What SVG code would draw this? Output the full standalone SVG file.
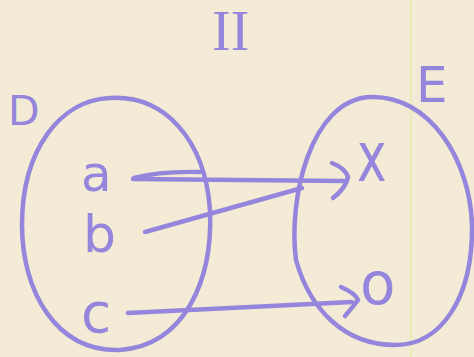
<svg xmlns="http://www.w3.org/2000/svg" width="474" height="357" viewBox="0 0 474 357">
<style>
.ink{fill:none;stroke:#9585dc;stroke-width:4.5;stroke-linecap:round;stroke-linejoin:round}
.lbl{fill:#9585dc;font-family:"DejaVu Sans",sans-serif}
.title{fill:#9585dc;font-family:"Liberation Serif",serif}
</style>
<rect width="474" height="357" fill="#f3ebd5"/>
<line x1="411" y1="0" x2="411" y2="357" stroke="#e4ebb0" stroke-width="1.5"/>
<g id="title"><text class="title" x="212" y="50" font-size="56">II</text></g>
<g id="setD">
<path class="ink" d="M110 98 C165 95 205 140 210 210 C213 280 185 345 120 350 C55 352 22 290 22 225 C22 150 60 100 110 98 Z"/>
<text class="lbl" x="8" y="125" font-size="41">D</text>
</g>
<g id="setE">
<path class="ink" d="M370 97 C430 95 470 160 472 225 C473 300 440 345 395 345 C345 345 310 310 296 260 C288 200 310 100 370 97 Z"/>
<text class="lbl" x="416" y="102" font-size="50">E</text>
</g>
<g id="a"><text class="lbl" x="81" y="191" font-size="50">a</text></g>
<g id="b"><text class="lbl" x="83" y="252" font-size="52">b</text></g>
<g id="c"><text class="lbl" x="81" y="332" font-size="55">c</text></g>
<g id="x"><text class="lbl" transform="translate(357,181) scale(1,1.4)" font-size="50">x</text></g>
<g id="o"><text class="lbl" x="360" y="304" font-size="58">o</text></g>
<g id="connectors">
<path class="ink" d="M133 179 L345 181"/>
<path class="ink" d="M134 178 Q160 171 200 172"/>
<path class="ink" d="M332 163 Q345 168 348 177 Q346 188 333 198"/>
<path class="ink" d="M145 232 L302 188"/>
<path class="ink" d="M128 313 L352 302"/>
<path class="ink" d="M341 287 Q355 293 358 300 Q352 308 345 316"/>
</g>
</svg>
